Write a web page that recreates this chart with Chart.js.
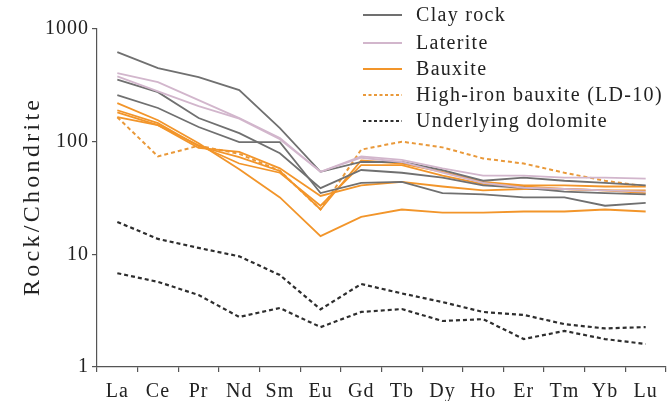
<!DOCTYPE html>
<html>
<head>
<meta charset="utf-8">
<script src="https://cdn.jsdelivr.net/npm/chart.js@4.4.1/dist/chart.umd.min.js"></script>
<style>
html,body{margin:0;padding:0;background:#fff;}
#wrap{width:669px;height:401px;position:relative;}
</style>
</head>
<body>
<div id="wrap"><canvas id="c" width="669" height="401"></canvas></div>
<script>
// ---- data ----
const elements = ['La','Ce','Pr','Nd','Sm','Eu','Gd','Tb','Dy','Ho','Er','Tm','Yb','Lu'];
const yTickValues = [1, 10, 100, 1000];
const yTitle = 'Rock/Chondrite';

const clayRock1 = [624, 450, 374, 287, 132, 54, 66, 66, 56, 45, 48, 45, 43, 41];
const clayRock2 = [355, 275, 162, 119, 79, 38.7, 56, 53, 48, 41, 39, 36, 35, 34];
const clayRock3 = [259, 199, 135, 99, 99, 35, 43, 44, 35, 34, 32, 32, 27, 28.6];

const laterite1 = [406, 338, 234, 162, 108, 54, 74, 69, 58, 50, 50, 48, 48, 47];
const laterite2 = [380, 280, 207, 160, 105, 54, 72, 66, 53, 43, 39, 38, 37, 36];

const bauxite1 = [220, 155, 97, 57, 32, 14.5, 21.5, 25, 23.5, 23.5, 24, 24, 25, 24];
const bauxite2 = [190, 146, 91, 73, 55, 25, 68, 64, 54, 44, 41, 41, 40, 40];
const bauxite3 = [182, 140, 88, 81, 58, 33, 41, 44, 40, 37, 38, 38, 37, 35];
const bauxite4 = [165, 140, 93, 64, 53, 27, 62, 62, 50, 42, 40, 38, 37, 37];

const highIronBauxite = [165, 74, 92, 78, 55, 25, 85, 100, 89, 71, 64, 53, 45, 40];

const dolomite1 = [19.4, 13.7, 11.4, 9.6, 6.55, 3.25, 5.45, 4.5, 3.77, 3.08, 2.9, 2.4, 2.2, 2.26];
const dolomite2 = [6.8, 5.7, 4.35, 2.78, 3.34, 2.26, 3.08, 3.27, 2.56, 2.66, 1.77, 2.09, 1.77, 1.6];

const legendLabels = ['Clay rock', 'Laterite', 'Bauxite', 'High-iron bauxite (LD-10)', 'Underlying dolomite'];

// ---- styles ----
const GRAY = '#707070', PINK = '#d2b6cc', ORANGE = '#f2952a', ORANGE_D = '#e9993a', DARK = '#2e2e2e';
const groupStyle = [
  {color: GRAY, dash: []},
  {color: PINK, dash: []},
  {color: ORANGE, dash: []},
  {color: ORANGE_D, dash: [4, 3]},
  {color: DARK, dash: [4, 3]}
];

function ds(data, g, w) {
  return {
    data: data, group: g,
    borderColor: groupStyle[g].color,
    borderDash: groupStyle[g].dash,
    borderWidth: w || 1.8,
    pointRadius: 0, tension: 0, fill: false
  };
}

const datasets = [
  ds(laterite1, 1), ds(laterite2, 1),
  ds(clayRock1, 0), ds(clayRock2, 0), ds(clayRock3, 0),
  ds(bauxite1, 2), ds(bauxite2, 2), ds(bauxite3, 2), ds(bauxite4, 2),
  ds(highIronBauxite, 3, 2),
  ds(dolomite1, 4, 2.2), ds(dolomite2, 4, 2.2)
];

const SERIF = '"Liberation Serif", "DejaVu Serif", serif';

const spacing = {
  id: 'spacing',
  beforeDraw(chart) { chart.ctx.letterSpacing = '1px'; },
  afterDraw(chart) { chart.ctx.letterSpacing = '0px'; }
};

const overlay = {
  id: 'overlay',
  afterDraw(chart) {
    const ctx = chart.ctx;
    ctx.save();
    // y-axis title
    ctx.font = '24px ' + SERIF;
    ctx.fillStyle = '#222';
    const target = 196;
    ctx.letterSpacing = '0px';
    const w0 = ctx.measureText(yTitle).width;
    const sp = Math.max(0, (target - w0) / (yTitle.length - 1));
    ctx.letterSpacing = sp.toFixed(2) + 'px';
    const ca = chart.chartArea;
    ctx.translate(33, (ca.top + ca.bottom) / 2);
    ctx.rotate(-Math.PI / 2);
    ctx.textAlign = 'center';
    ctx.textBaseline = 'middle';
    ctx.fillText(yTitle, sp / 2, 0);
    ctx.restore();

    // legend
    ctx.save();
    const rows = [15, 43, 69, 95, 121];
    ctx.font = '20px ' + SERIF;
    ctx.letterSpacing = '1.3px';
    ctx.textBaseline = 'middle';
    ctx.textAlign = 'left';
    legendLabels.forEach((lab, i) => {
      const st = groupStyle[i];
      ctx.strokeStyle = st.color;
      ctx.lineWidth = i >= 3 ? 2 : 1.8;
      ctx.setLineDash(i >= 3 ? [3, 2.5] : []);
      ctx.beginPath();
      ctx.moveTo(363, rows[i]);
      ctx.lineTo(402, rows[i]);
      ctx.stroke();
      ctx.setLineDash([]);
      ctx.fillStyle = '#222';
      ctx.fillText(lab, 416, rows[i] + 1);
    });
    ctx.restore();
  }
};

new Chart(document.getElementById('c'), {
  type: 'line',
  data: {labels: elements, datasets: datasets},
  options: {
    responsive: false,
    animation: false,
    events: [],
    layout: {padding: {left: 37, right: 3, top: 29, bottom: 0}},
    plugins: {legend: {display: false}, tooltip: {enabled: false}, title: {display: false}},
    scales: {
      x: {
        type: 'category',
        offset: true,
        grid: {offset: true, drawOnChartArea: false, tickLength: 5, color: '#555', lineWidth: 1.2},
        border: {display: true, color: '#555', width: 1.2},
        ticks: {color: '#222', font: {family: SERIF, size: 20}, padding: 8, maxRotation: 0, autoSkip: false},
        afterFit(s) { s.height = 34; }
      },
      y: {
        type: 'logarithmic',
        min: 1, max: 1000,
        grid: {drawOnChartArea: false, tickLength: 5, color: '#555', lineWidth: 1.2},
        border: {display: true, color: '#555', width: 1.2},
        afterBuildTicks(s) { s.ticks = yTickValues.map(v => ({value: v})); },
        ticks: {
          color: '#222', font: {family: SERIF, size: 20}, padding: 3,
          callback: v => String(v)
        },
        afterFit(s) { s.width = 60; }
      }
    }
  },
  plugins: [spacing, overlay]
});
</script>
</body>
</html>
